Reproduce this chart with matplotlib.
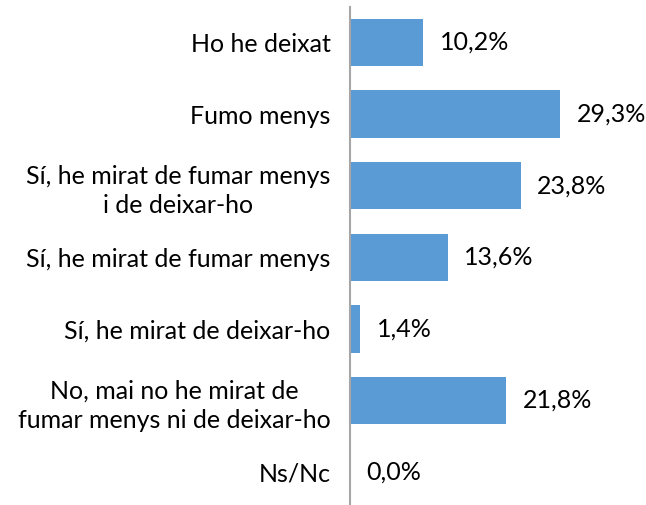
import matplotlib
matplotlib.use("Agg")
import matplotlib.pyplot as plt

categories = [
    "Ho he deixat",
    "Fumo menys",
    "Sí, he mirat de fumar menys\ni de deixar-ho",
    "Sí, he mirat de fumar menys",
    "Sí, he mirat de deixar-ho",
    "No, mai no he mirat de\nfumar menys ni de deixar-ho",
    "Ns/Nc",
]
values = [10.2, 29.3, 23.8, 13.6, 1.4, 21.8, 0.0]
value_labels = ["10,2%", "29,3%", "23,8%", "13,6%", "1,4%", "21,8%", "0,0%"]

plt.rcParams["font.family"] = ["Lato", "DejaVu Sans"]

W, H = 646, 505
top_px, bot_px = 6.7, 507.9
fig = plt.figure(figsize=(W / 100, H / 100), dpi=100)
ax = fig.add_axes([350 / W, 1 - bot_px / H, 279.6 / W, (bot_px - top_px) / H])

ypos = list(range(len(categories)))
ax.barh(ypos, values, height=0.66, color="#5B9BD5")

ax.set_xlim(0, 39)
ax.set_ylim(len(categories) - 0.5, -0.5)

for y, v, lab in zip(ypos, values, value_labels):
    ax.annotate(lab, xy=(v, y), xytext=(12, 0), textcoords="offset points",
                ha="left", va="center", fontsize=18, color="#000000")

ax.set_yticks(ypos)
ax.set_yticklabels(categories, fontsize=18, color="#000000",
                   multialignment="center", linespacing=1.35)
ax.tick_params(axis="y", length=0, pad=14)
ax.set_xticks([])

for s in ["top", "right", "bottom"]:
    ax.spines[s].set_visible(False)
ax.spines["left"].set_color("#A6A6A6")
ax.spines["left"].set_linewidth(1.5)

fig.savefig("out.png", dpi=100)
